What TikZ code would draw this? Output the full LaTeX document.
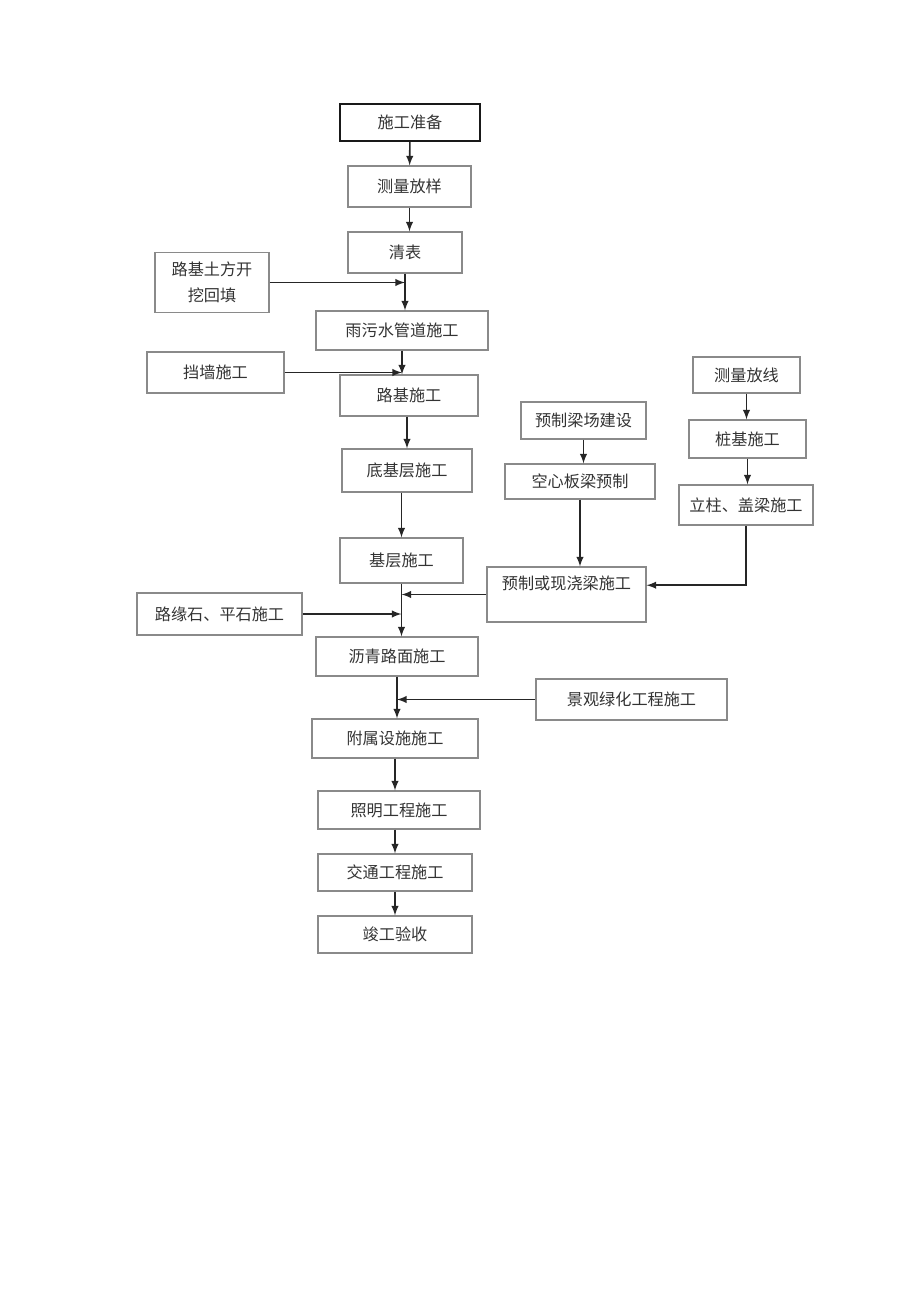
\documentclass[tikz,border=0pt]{standalone}
\usepackage{fontspec}
\newfontfamily\cjk{Noto Sans CJK SC}
\usepackage{xcolor}
\definecolor{boxline}{HTML}{8A8A8A}
\definecolor{txt}{HTML}{333333}

\begin{document}
\begin{tikzpicture}[>=latex, x=0.02cm, y=-0.02cm,
        box/.style={draw=boxline, line width=0.6pt, text=txt, inner sep=1pt,
            font=\cjk\fontsize{9.2}{15}\selectfont, align=center},
        flow/.style={->, line width=0.9pt, draw=black!85}]
        \useasboundingbox (0,0) rectangle (920,1301);
        \node[box, draw=black!90, line width=1.1pt, minimum width=2.8cm, minimum height=0.74cm] (prep) at (410,122.5) {施工准备};
        \node[box, minimum width=2.46cm, minimum height=0.82cm] (celiang) at (409.5,186.5) {测量放样};
        \node[box, minimum width=2.28cm, minimum height=0.82cm] (qingbiao) at (405,252.5) {清表};
        \node[box, minimum width=2.28cm, minimum height=1.2cm] (tufang) at (212,282.5) {路基土方开\\挖回填};
        \node[box, minimum width=3.44cm, minimum height=0.78cm] (yuwu) at (402,330.5) {雨污水管道施工};
        \node[box, minimum width=2.74cm, minimum height=0.82cm] (dangqiang) at (215.5,372.5) {挡墙施工};
        \node[box, minimum width=2.76cm, minimum height=0.82cm] (luji) at (409,395.5) {路基施工};
        \node[box, minimum width=2.6cm, minimum height=0.86cm] (diji) at (407,470.5) {底基层施工};
        \node[box, minimum width=2.46cm, minimum height=0.9cm] (jiceng) at (401.5,560.5) {基层施工};
        \node[box, minimum width=3.3cm, minimum height=0.84cm] (luyuan) at (219.5,614) {路缘石、平石施工};
        \node[box, minimum width=3.24cm, minimum height=0.78cm] (liqing) at (397,656.5) {沥青路面施工};
        \node[box, minimum width=3.32cm, minimum height=0.78cm] (fushu) at (395,738.5) {附属设施施工};
        \node[box, minimum width=3.24cm, minimum height=0.76cm] (zhaoming) at (399,810) {照明工程施工};
        \node[box, minimum width=3.08cm, minimum height=0.74cm] (jiaotong) at (395,872.5) {交通工程施工};
        \node[box, minimum width=3.08cm, minimum height=0.74cm] (jungong) at (395,934.5) {竣工验收};
        \node[box, minimum width=2.14cm, minimum height=0.72cm] (fangxian) at (746.5,375) {测量放线};
        \node[box, minimum width=2.34cm, minimum height=0.76cm] (zhuangji) at (747.5,439) {桩基施工};
        \node[box, minimum width=2.68cm, minimum height=0.8cm] (lizhu) at (746,505) {立柱、盖梁施工};
        \node[box, minimum width=2.5cm, minimum height=0.74cm] (liangchang) at (583.5,420.5) {预制梁场建设};
        \node[box, minimum width=3.0cm, minimum height=0.7cm] (kongxin) at (580,481.5) {空心板梁预制};
        \node[box, minimum width=3.18cm, inner ysep=0pt, text height=0.44cm, text depth=0.66cm] (zhiliang) at (566.5,594.5) {预制或现浇梁施工};
        \node[box, minimum width=3.82cm, minimum height=0.82cm] (jingguan) at (631.5,699.5) {景观绿化工程施工};
        \draw[flow] (prep) -- (celiang);
        \draw[flow] (celiang.south) -- (celiang.south |- qingbiao.north);
        \draw[flow] (qingbiao.south) -- (qingbiao.south |- yuwu.north);
        \draw[flow] (tufang.east) -- (qingbiao.south |- tufang.east);
        \draw[flow] (yuwu.south) -- (yuwu.south |- luji.north);
        \draw[flow] (dangqiang.east) -- (yuwu.south |- dangqiang.east);
        \draw[flow] (diji.north |- luji.south) -- (diji.north);
        \draw[flow] (diji.south -| jiceng) -- (jiceng.north);
        \draw[flow] (jiceng.south) -- (jiceng.south |- liqing.north);
        \draw[flow] (zhiliang.west) -- (jiceng.south |- zhiliang.west);
        \draw[flow] (luyuan.east) -- (jiceng.south |- luyuan.east);
        \draw[flow] (liqing.south) -- (liqing.south |- fushu.north);
        \draw[flow] (jingguan.west) -- (liqing.south |- jingguan.west);
        \draw[flow] (fushu.south) -- (fushu.south |- zhaoming.north);
        \draw[flow] (zhaoming.south -| jiaotong) -- (jiaotong.north);
        \draw[flow] (jiaotong) -- (jungong);
        \draw[flow] (fangxian.south) -- (fangxian.south |- zhuangji.north);
        \draw[flow] (zhuangji.south) -- (zhuangji.south |- lizhu.north);
        \draw[flow] (liangchang.south) -- (liangchang.south |- kongxin.north);
        \draw[flow] (kongxin.south) -- (kongxin.south |- zhiliang.north);
        \draw[flow] (lizhu.south) |- (zhiliang.mid east);
    \end{tikzpicture}
\end{document}
